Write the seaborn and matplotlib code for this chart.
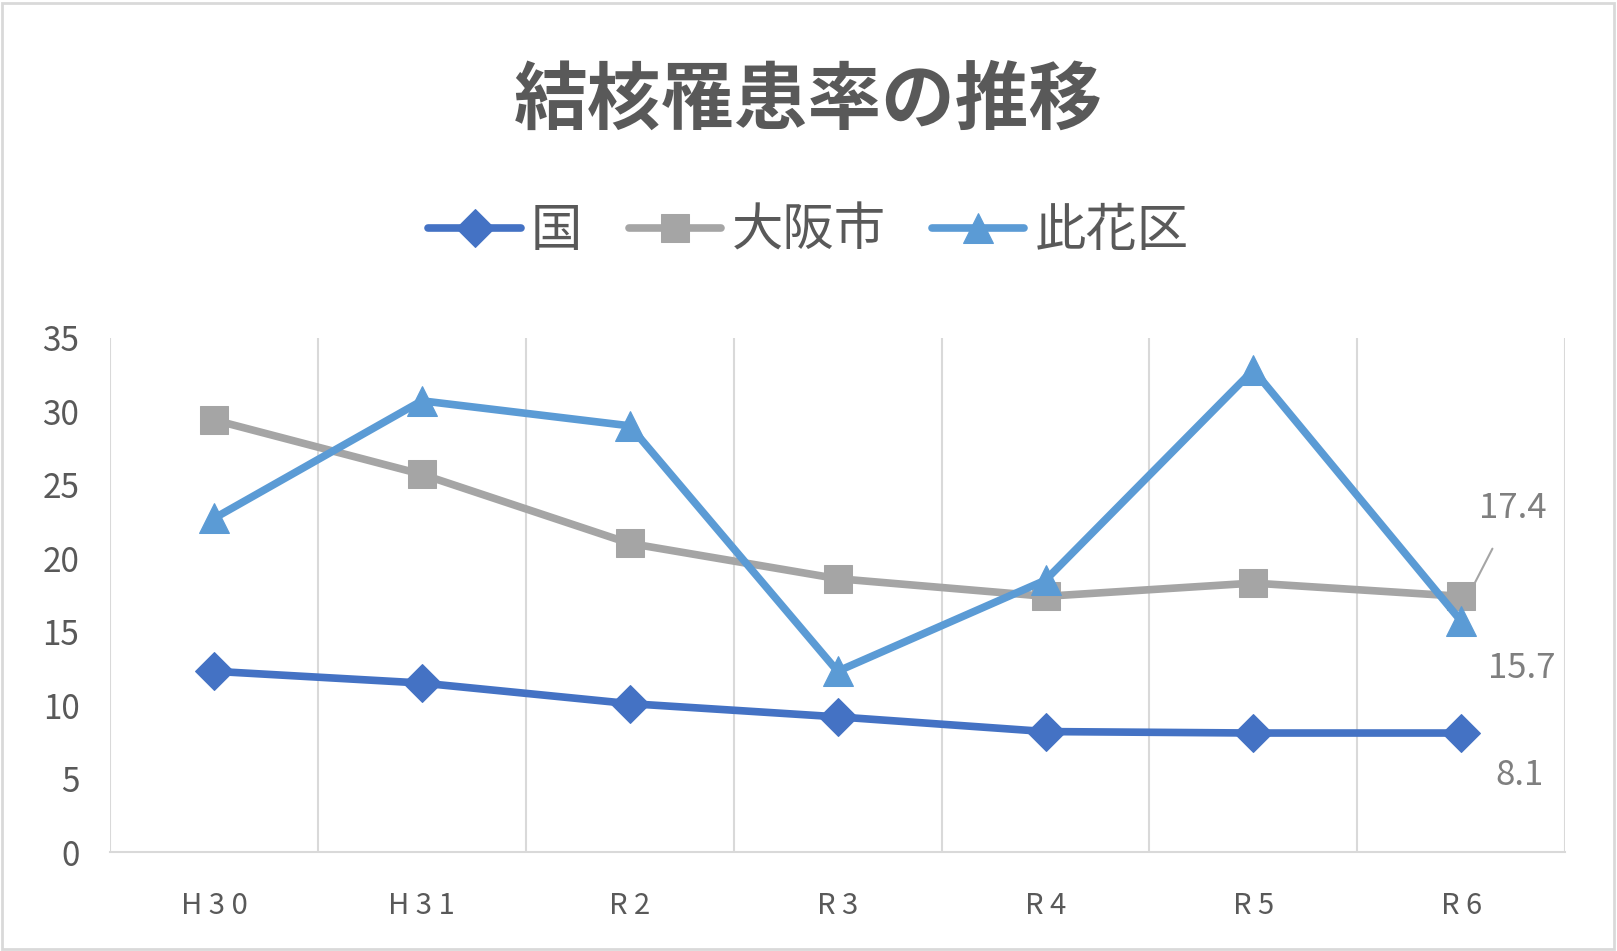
import numpy as np
import pandas as pd
import matplotlib
matplotlib.use("Agg")
import matplotlib.pyplot as plt
import seaborn as sns
from matplotlib.patches import Rectangle

years = ["H30", "H31", "R2", "R3", "R4", "R5", "R6"]
kuni = [12.3, 11.5, 10.1, 9.2, 8.2, 8.1, 8.1]
osaka = [29.4, 25.7, 21.0, 18.6, 17.4, 18.3, 17.4]
konohana = [22.7, 30.7, 29.0, 12.3, 18.5, 32.8, 15.7]

series_names = ["国", "大阪市", "此花区"]
colors = ["#4472C4", "#A5A5A5", "#5B9BD5"]
markers = ["D", "s", "^"]
msizes = [19, 20, 22]

sns.set_theme(style="white")
plt.rcParams['font.family'] = ['Noto Sans CJK JP', 'DejaVu Sans']

df = pd.DataFrame({"年度": years, "国": kuni, "大阪市": osaka, "此花区": konohana})
df["pos"] = np.arange(len(years))

fig = plt.figure(figsize=(16.17, 9.51), dpi=100)
ax = fig.add_axes([0.068, 0.104, 0.900, 0.541])

for name, c, m, ms in zip(series_names, colors, markers, msizes):
    sns.lineplot(data=df, x="pos", y=name, ax=ax, color=c, marker=m,
                 markersize=ms, markeredgecolor=c, linewidth=5.5,
                 label=name, sort=False)

ax.set_xlim(-0.5, len(years) - 0.5)
ax.set_ylim(0, 35)
ax.set_yticks(range(0, 36, 5))
ax.set_xticks(df["pos"])
ax.set_xticklabels([" ".join(y) for y in years])
ax.set_xticks(np.arange(-0.5, len(years), 1.0), minor=True)
ax.grid(False)
ax.grid(True, which="minor", axis="x", color="#D9D9D9", linewidth=1.5)
ax.tick_params(axis="both", which="both", length=0, colors="#595959")
ax.tick_params(axis="y", labelsize=24, pad=22)
ax.tick_params(axis="x", labelsize=21, pad=28)
ax.set_xlabel("")
ax.set_ylabel("")
for s in ["top", "left", "right"]:
    ax.spines[s].set_visible(False)
ax.spines["bottom"].set_color("#D9D9D9")
ax.spines["bottom"].set_linewidth(1.5)

# data labels for the last year
last = len(years) - 1
ax.annotate(f"{osaka[-1]}", xy=(last + 0.05, osaka[-1] + 0.5),
            xytext=(last + 0.25, 23.4), ha="center", va="center",
            fontsize=25, color="#7F7F7F",
            arrowprops=dict(arrowstyle="-", color="#A5A5A5", lw=1.5,
                            shrinkA=16, shrinkB=0))
ax.text(last + 0.29, 12.5, f"{konohana[-1]}", ha="center", va="center",
        fontsize=25, color="#7F7F7F")
ax.text(last + 0.28, 5.2, f"{kuni[-1]}", ha="center", va="center",
        fontsize=25, color="#7F7F7F")

handles, labels = ax.get_legend_handles_labels()
ax.get_legend().remove()
fig.legend(handles, labels, loc="center", bbox_to_anchor=(0.5, 0.757),
           ncol=3, frameon=False, fontsize=37, handlelength=1.8,
           columnspacing=0.9, handletextpad=0.2, labelcolor="#595959")

title = fig.text(0.5, 0.893, "結核罹患率の推移", ha="center", va="center",
                 fontsize=53, fontweight="bold", color="#595959")

fig.patches.append(Rectangle((0.001, 0.002), 0.997, 0.995,
                             transform=fig.transFigure, fill=False,
                             edgecolor="#D9D9D9", linewidth=2))

fig.savefig("out.png", dpi=100)
